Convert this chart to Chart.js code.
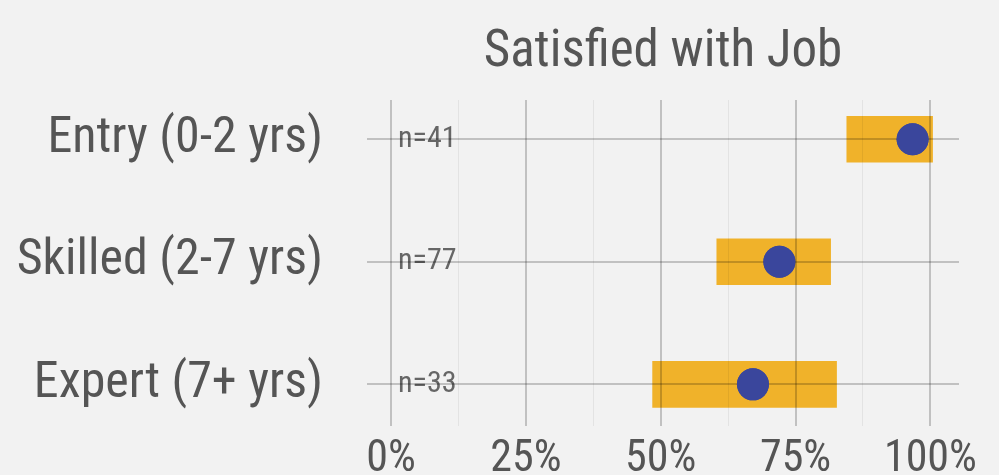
<!DOCTYPE html>
<html>
<head>
<meta charset="utf-8">
<script src="https://cdn.jsdelivr.net/npm/chart.js@4"></script>
<style>
  html, body { margin: 0; padding: 0; background: #f2f2f2; overflow: hidden; }
  #wrap { width: 999px; height: 475px; }
</style>
</head>
<body>
<div id="wrap"><canvas id="chart" width="999" height="475"></canvas></div>
<script>
// Satisfied with Job - share with 95% interval, by experience level
const categories = ['Entry (0-2 yrs)', 'Skilled (2-7 yrs)', 'Expert (7+ yrs)'];
const sampleSizes = [41, 77, 33];
const lowerBound = [84.5, 60.4, 48.5];
const upperBound = [100.4, 81.5, 82.6];
const estimate = [96.7, 72.0, 67.1];
const xTicks = [0, 12.5, 25, 37.5, 50, 62.5, 75, 87.5, 100];

const FONT = "'Roboto Condensed', 'Liberation Sans Narrow', 'DejaVu Sans Condensed', Roboto, sans-serif";
const TEXT = '#555555';
const MAJOR_GRID = 'rgba(0,0,0,0.2)';
const MINOR_GRID = 'rgba(0,0,0,0.06)';

const isMajor = (c) => c.tick && c.tick.value % 25 === 0;

// "n=.." labels next to the 0% line
const sampleLabels = {
    id: 'sampleLabels',
    afterDatasetsDraw(chart) {
        const ctx = chart.ctx;
        const x = chart.scales.x.getPixelForValue(0) + 7;
        ctx.save();
        ctx.font = '30px ' + FONT;
        ctx.fillStyle = '#666666';
        ctx.textAlign = 'left';
        ctx.textBaseline = 'middle';
        sampleSizes.forEach((n, i) => {
            ctx.fillText('n=' + n, x, chart.scales.y.getPixelForValue(i));
        });
        ctx.restore();
    }
};

// grid sits on top of the bars, dots sit on top of the grid
const dotsOnTop = {
    id: 'dotsOnTop',
    afterDraw(chart) {
        chart.getDatasetMeta(1).controller.draw();
    }
};

const ctx = document.getElementById('chart').getContext('2d');
new Chart(ctx, {
    type: 'bar',
    data: {
        datasets: [{
            type: 'bar',
            indexAxis: 'y',
            data: categories.map((c, i) => ({ y: i, x: [lowerBound[i], upperBound[i]] })),
            backgroundColor: '#f0b22a',
            borderWidth: 0,
            borderSkipped: false,
            barThickness: 46,
            order: 2
        }, {
            type: 'scatter',
            data: categories.map((c, i) => ({ x: estimate[i], y: i })),
            backgroundColor: '#3a469c',
            borderWidth: 0,
            pointRadius: 16,
            pointHoverRadius: 16,
            order: 1
        }]
    },
    options: {
        responsive: false,
        animation: false,
        layout: { padding: { left: 0, right: 40, top: 0, bottom: 0 } },
        plugins: {
            legend: { display: false },
            tooltip: { enabled: false },
            title: { display: false }
        },
        scales: {
            x: {
                type: 'linear',
                position: 'bottom',
                offset: false,
                min: -4.45,
                max: 105.3,
                afterBuildTicks: (scale) => { scale.ticks = xTicks.map(v => ({ value: v })); },
                afterFit: (scale) => {
                    scale.height = 49;
                    scale.paddingLeft = 0;
                    scale.paddingRight = 0;
                },
                ticks: {
                    autoSkip: false,
                    maxRotation: 0,
                    padding: 8,
                    color: TEXT,
                    font: { family: FONT, size: 44 },
                    callback: (v) => (v % 25 === 0 ? v + '%' : '')
                },
                grid: {
                    z: 1,
                    offset: false,
                    drawTicks: false,
                    lineWidth: (c) => (isMajor(c) ? 2 : 1),
                    color: (c) => (isMajor(c) ? MAJOR_GRID : MINOR_GRID)
                },
                border: { display: false }
            },
            x2: {
                type: 'linear',
                position: 'top',
                afterFit: (scale) => { scale.height = 100; },
                ticks: { display: false },
                grid: { display: false },
                border: { display: false },
                title: {
                    display: true,
                    text: 'Satisfied with Job',
                    color: TEXT,
                    font: { family: FONT, size: 51 },
                    padding: { top: 23, bottom: 0 }
                }
            },
            y: {
                type: 'linear',
                reverse: true,
                offset: false,
                min: -0.32,
                max: 2.34,
                afterBuildTicks: (scale) => { scale.ticks = categories.map((c, i) => ({ value: i })); },
                afterFit: (scale) => {
                    scale.width = 367;
                    scale.paddingTop = 0;
                    scale.paddingBottom = 0;
                },
                ticks: {
                    padding: 44,
                    color: TEXT,
                    font: { family: FONT, size: 50 },
                    callback: (v) => categories[v]
                },
                grid: {
                    z: 1,
                    offset: false,
                    drawTicks: false,
                    lineWidth: 2,
                    color: MAJOR_GRID
                },
                border: { display: false }
            }
        }
    },
    plugins: [sampleLabels, dotsOnTop]
});
</script>
</body>
</html>
